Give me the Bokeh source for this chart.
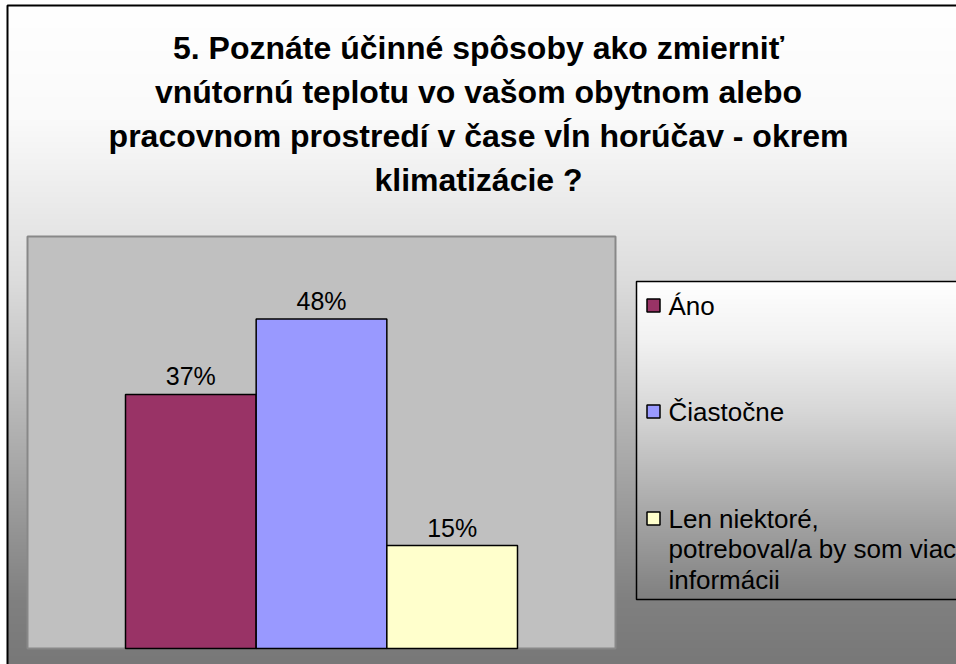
import numpy as np
from bokeh.plotting import figure
from bokeh.models import Range1d, ColumnDataSource
from bokeh.core.properties import value
from bokeh.embed import file_html
from bokeh.resources import INLINE

# ---------------- data ----------------
title_lines = [
    "5. Poznáte účinné spôsoby ako zmierniť",
    "vnútornú teplotu vo vašom obytnom alebo",
    "pracovnom prostredí v čase vĺn horúčav - okrem",
    "klimatizácie ?",
]
series = ["Áno", "Čiastočne", "Len niektoré,\npotreboval/a by som viac\ninformácii"]
values = [0.37, 0.48, 0.15]
colors = ["#993366", "#9999FF", "#FFFFCC"]
y_max = 0.6

# ---------------- layout (canvas pixels) ----------------
W, H = 956, 664
PL, PR, PT, PB = 27, 615, 236, 648          # plot area box
LG_L, LG_T, LG_B = 636, 281, 599            # legend box
LG_ITEM_Y = [305, 411, 518]                 # legend rows (first line centre)
LG_LINE = 30.5                              # legend line spacing
FONT = "Liberation Sans"


def X(px):
    return (px - PL) / (PR - PL)


def Y(py):
    return (PB - py) / (PB - PT) * y_max


p = figure(width=W, height=H, output_backend="svg", toolbar_location=None,
           x_range=Range1d(X(0), X(W)), y_range=Range1d(Y(H), Y(0)),
           min_border=0, x_axis_type=None, y_axis_type=None,
           outline_line_color=None, title=None)
p.grid.visible = False
p.background_fill_color = "white"
p.border_fill_color = "white"


def gradient(y0, y1, stops_y, stops_v):
    ys = np.arange(y1, y0, -1) - 0.5           # bottom row first
    g = np.interp(ys, stops_y, stops_v).astype(np.uint32)
    img = (255 << 24) | (g << 16) | (g << 8) | g
    return img.reshape(-1, 1).astype(np.uint32)


# chart background gradient
bg = gradient(5, H, [5, 120, 236, 281, 450, 600, 664], [255, 250, 229, 220, 172, 128, 120])
p.image_rgba(image=[bg], x=X(7), y=Y(H), dw=X(W) - X(7), dh=Y(5) - Y(H))
# chart border (only left/top visible)
p.quad(left=X(7), right=X(W + 50), top=Y(5), bottom=Y(H + 50),
       fill_color=None, line_color="black", line_width=2)

# plot area
p.quad(left=X(PL), right=X(PR), top=y_max, bottom=0,
       fill_color="#c0c0c0", line_color="#888888", line_width=2)

# bars
n = len(values)
bw = 1 / (n + 1.5)
src = ColumnDataSource(dict(
    x=[0.5 + (i - (n - 1) / 2) * bw for i in range(n)],
    top=values,
    color=colors,
    label=[f"{round(v * 100)}%" for v in values],
))
r = p.vbar(x="x", top="top", bottom=0, width=bw, fill_color="color",
           line_color="black", line_width=1.5, source=src)
p.text(x="x", y="top", text="label", source=src, text_align="center",
       text_baseline="alphabetic", y_offset=-18, text_color="black",
       text_font=value(FONT), text_font_size="25px")

# title
tsrc = ColumnDataSource(dict(
    x=[X(478)] * len(title_lines),
    y=[Y(47 + i * 44.3) for i in range(len(title_lines))],
    t=title_lines,
))
p.text(x="x", y="y", text="t", source=tsrc, text_align="center",
       text_baseline="middle", text_font=value(FONT), text_font_style="bold",
       text_font_size="32px", text_color="black")

# legend: gradient box, border, swatches and labels
lg = gradient(LG_T, LG_B, [LG_T, 340, 412, 518, LG_B], [255, 242, 215, 165, 128])
p.image_rgba(image=[lg], x=X(LG_L), y=Y(LG_B), dw=X(W) - X(LG_L), dh=Y(LG_T) - Y(LG_B))
p.quad(left=X(LG_L), right=X(W + 50), top=Y(LG_T), bottom=Y(LG_B),
       fill_color=None, line_color="black", line_width=1.5)

sw = ColumnDataSource(dict(
    x=[X(653)] * n, y=[Y(v) for v in LG_ITEM_Y], color=colors))
p.rect(x="x", y="y", width=13, height=13, width_units="screen",
       height_units="screen", fill_color="color", line_color="black",
       line_width=1.5, source=sw)

lx, ly, lt = [], [], []
for i, s in enumerate(series):
    for j, line in enumerate(s.split("\n")):
        lx.append(X(668))
        ly.append(Y(LG_ITEM_Y[i] + j * LG_LINE))
        lt.append(line)
p.text(x=lx, y=ly, text=lt, text_align="left", text_baseline="middle",
       text_color="black", text_font=value(FONT), text_font_size="26px")

open("out.html", "w").write(file_html(p, INLINE))
